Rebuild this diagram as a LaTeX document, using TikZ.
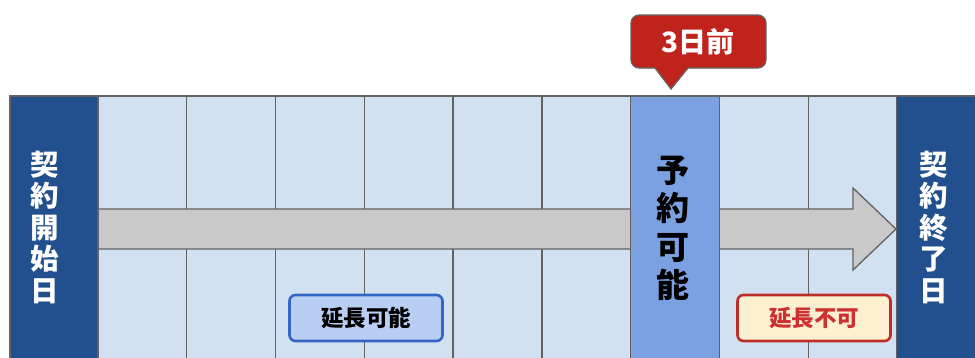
\documentclass[tikz,border=0pt]{standalone}
\usepackage{fontspec}
\setmainfont{Noto Sans CJK JP}
\definecolor{darkb}{HTML}{22508F}
\definecolor{cellb}{HTML}{D2E1F2}
\definecolor{medb}{HTML}{7BA1E3}
\definecolor{arrg}{HTML}{C9C9C9}
\definecolor{lineg}{HTML}{626262}
\definecolor{calred}{HTML}{C0221C}
\definecolor{okfill}{HTML}{B9CEF3}
\definecolor{okline}{HTML}{3466C6}
\definecolor{ngfill}{HTML}{FDF0D0}
\definecolor{ngline}{HTML}{BF2D27}
\definecolor{ngtext}{HTML}{CC3030}
\tikzset{
  cell/.style={draw=lineg, line width=1.3pt, fill=cellb},
  endcol/.style={draw=lineg, line width=1.3pt, fill=darkb},
  vtext/.style={font=\bfseries\fontsize{28.5}{31.5}\selectfont, align=center, inner sep=0pt},
  tag/.style={rounded corners=6pt, line width=2.6pt, minimum width=153pt, minimum height=46pt, inner sep=0pt, font=\bfseries\fontsize{22.5}{24}\selectfont}
}
\begin{document}
\begin{tikzpicture}[x=1pt,y=-1pt]
\useasboundingbox (0,0) rectangle (975,357);
\clip (0,0) rectangle (975,357);
\fill[white] (0,0) rectangle (975,357);
% cells
\foreach \i in {0,...,8} {
  \draw[cell] ({98+88.78*\i},96) rectangle ({98+88.78*(\i+1)},370);
}
% arrow
\draw[draw=lineg, fill=arrg, line width=1.3pt] (98,209) -- (853,209) -- (853,188) -- (896,229) -- (853,270) -- (853,249) -- (98,249) -- cycle;
% special columns
\draw[endcol] (10,96) rectangle (98,370);
\node[vtext, text=white] (start) at (45,227) {契\\約\\開\\始\\日};
\draw[endcol] (896.8,96) rectangle (990,370);
\node[vtext, text=white] (endd) at (934,227) {契\\約\\終\\了\\日};
\draw[draw=lineg, line width=1.3pt, fill=medb] (630.5,96) rectangle (719.3,370);
\node[vtext, text=black, font=\bfseries\fontsize{33}{38.5}\selectfont] (res) at (673,228) {予\\約\\可\\能};
% callout
\draw[draw=lineg, line width=1.2pt, fill=calred, rounded corners=8pt] (655,68) -- (631,68) -- (631,15) -- (766,15) -- (766,68) -- (688,68);
\fill[calred] (654,66) -- (689,66) -- (671,89) -- cycle;
\draw[lineg, line width=1.2pt] (655,68) -- (671,89) -- (688,68);
\node[text=white, font=\bfseries\fontsize{28}{30}\selectfont] (three) at (698,42) {3日前};
% tags
\node[tag, draw=okline, fill=okfill, text=black] (ok) at (366,318) {延長可能};
\node[tag, draw=ngline, fill=ngfill, text=ngtext] (ng) at (814,318) {延長不可};
\end{tikzpicture}
\end{document}
